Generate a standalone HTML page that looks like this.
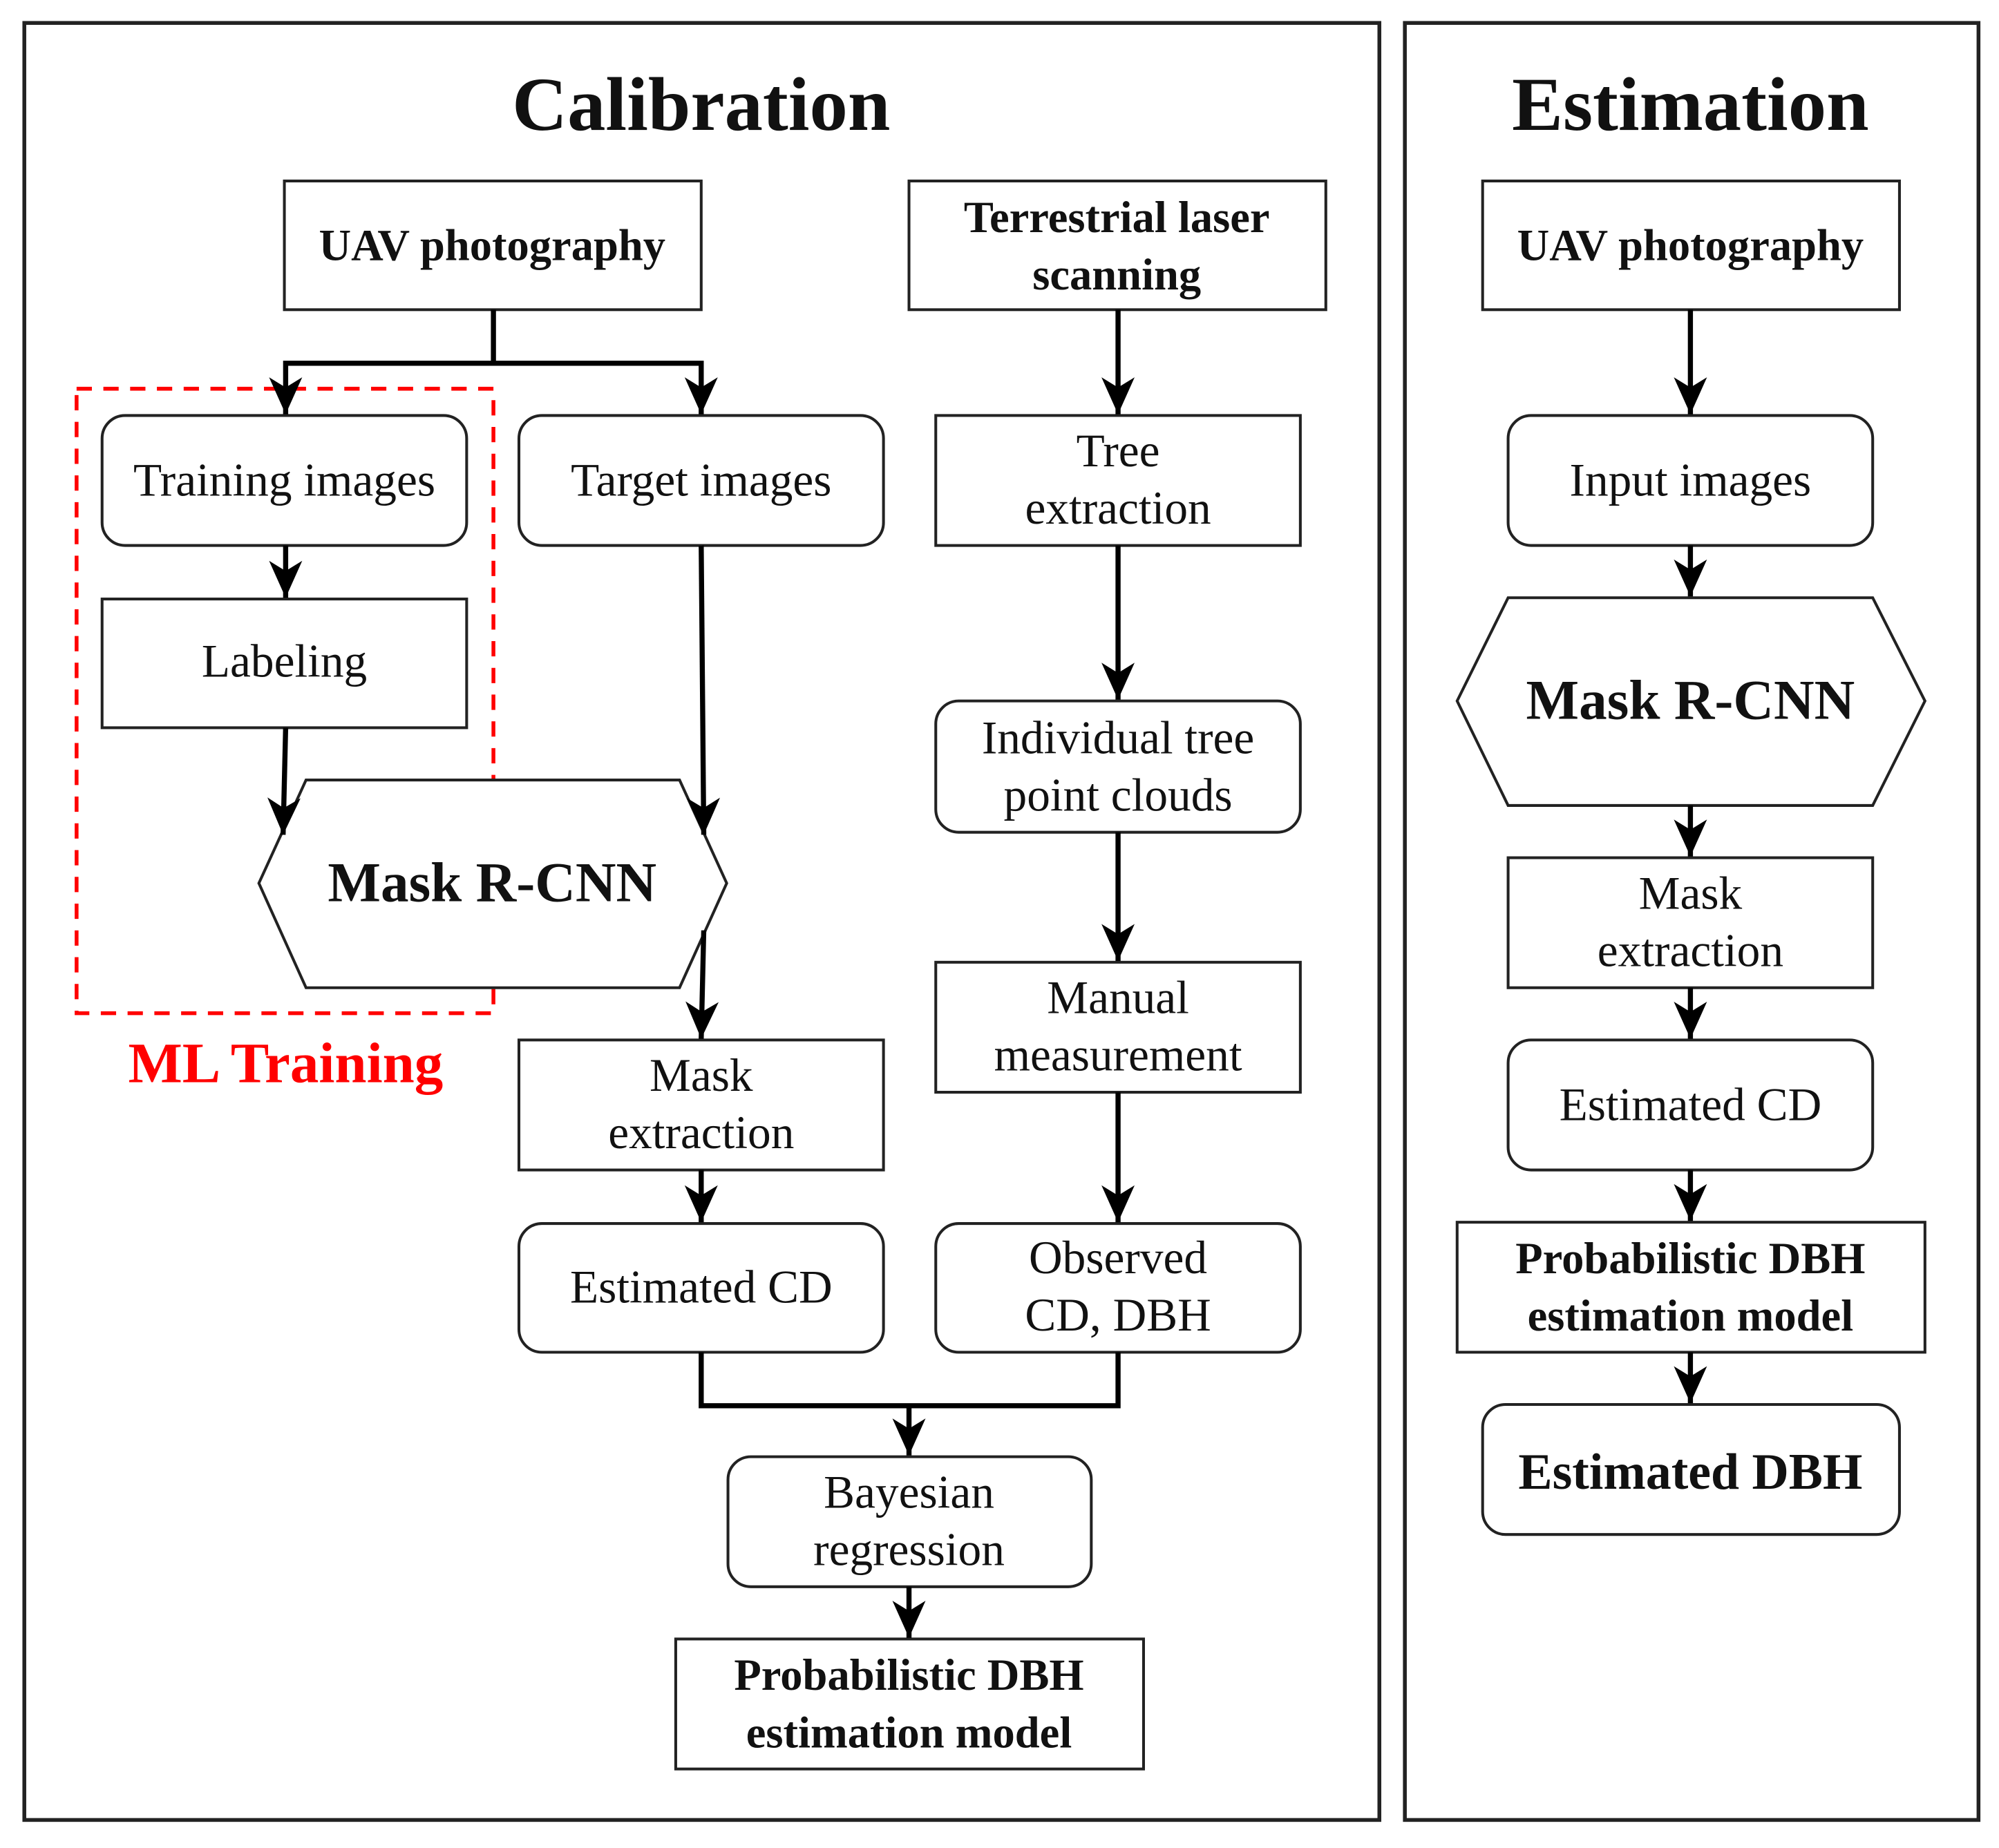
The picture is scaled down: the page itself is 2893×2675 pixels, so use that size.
<!DOCTYPE html>
<html><head><meta charset="utf-8"><style>
html,body{margin:0;padding:0;background:#fff}
svg{display:block}
text{font-family:"Liberation Serif",serif;fill:#111}
.n{font-size:36.5px}
.b{font-size:35px;font-weight:bold}
</style></head><body>
<svg width="2893" height="2675" viewBox="0 0 1568 1450" xmlns="http://www.w3.org/2000/svg">
<defs>
<marker id="a" markerUnits="userSpaceOnUse" markerWidth="32" markerHeight="28" refX="30" refY="14" orient="auto" viewBox="0 0 32 28">
<path d="M1,1 L30,14 L1,27 L9,14 Z" fill="#000"/>
</marker>
</defs>
<g fill="none" stroke="#222" stroke-width="3">
<rect x="19" y="18" width="1063" height="1410"/>
<rect x="1102" y="18" width="450" height="1410"/>
</g>
<text x="550" y="102" text-anchor="middle" style="font-size:60px;font-weight:bold">Calibration</text>
<text x="1326" y="102" text-anchor="middle" style="font-size:60px;font-weight:bold">Estimation</text>

<rect x="60" y="305" width="327" height="490" fill="none" stroke="#f00" stroke-width="3" stroke-dasharray="12,9"/>
<text x="224" y="849" text-anchor="middle" style="font-size:45px;font-weight:bold;fill:#f00">ML Training</text>

<g fill="#fff" stroke="#222" stroke-width="2.2">
<rect x="223" y="142" width="327" height="101"/>
<rect x="713" y="142" width="327" height="101"/>
<rect x="80" y="326" width="286" height="102" rx="18"/>
<rect x="407" y="326" width="286" height="102" rx="18"/>
<rect x="734" y="326" width="286" height="102"/>
<rect x="80" y="470" width="286" height="101"/>
<rect x="734" y="550" width="286" height="103" rx="18"/>
<polygon points="203,693 240,612 533,612 570,693 533,775 240,775"/>
<rect x="734" y="755" width="286" height="102"/>
<rect x="407" y="816" width="286" height="102"/>
<rect x="407" y="960" width="286" height="101" rx="18"/>
<rect x="734" y="960" width="286" height="101" rx="18"/>
<rect x="571" y="1143" width="285" height="102" rx="18"/>
<rect x="530" y="1286" width="367" height="102"/>
<rect x="1163" y="142" width="327" height="101"/>
<rect x="1183" y="326" width="286" height="102" rx="18"/>
<polygon points="1143,550 1183,469 1469,469 1510,550 1469,632 1183,632"/>
<rect x="1183" y="673" width="286" height="102"/>
<rect x="1183" y="816" width="286" height="102" rx="18"/>
<rect x="1143" y="959" width="367" height="102"/>
<rect x="1163" y="1102" width="327" height="102" rx="18"/>
</g>

<g fill="none" stroke="#000" stroke-width="4">
<polyline points="387,243 387,285 224,285 224,325" marker-end="url(#a)"/>
<polyline points="387,285 550,285 550,325" marker-end="url(#a)"/>
<line x1="224" y1="428" x2="224" y2="469" marker-end="url(#a)"/>
<line x1="224" y1="571" x2="222" y2="655" marker-end="url(#a)"/>
<line x1="550" y1="428" x2="552" y2="655" marker-end="url(#a)"/>
<line x1="552" y1="730" x2="550" y2="815" marker-end="url(#a)"/>
<line x1="550" y1="918" x2="550" y2="959" marker-end="url(#a)"/>
<polyline points="550,1061 550,1103 877,1103 877,1061"/>
<line x1="713" y1="1103" x2="713" y2="1142" marker-end="url(#a)"/>
<line x1="713" y1="1245" x2="713" y2="1285" marker-end="url(#a)"/>
<line x1="877" y1="243" x2="877" y2="325" marker-end="url(#a)"/>
<line x1="877" y1="428" x2="877" y2="549" marker-end="url(#a)"/>
<line x1="877" y1="653" x2="877" y2="754" marker-end="url(#a)"/>
<line x1="877" y1="857" x2="877" y2="959" marker-end="url(#a)"/>
<line x1="1326" y1="243" x2="1326" y2="325" marker-end="url(#a)"/>
<line x1="1326" y1="428" x2="1326" y2="468" marker-end="url(#a)"/>
<line x1="1326" y1="632" x2="1326" y2="672" marker-end="url(#a)"/>
<line x1="1326" y1="775" x2="1326" y2="815" marker-end="url(#a)"/>
<line x1="1326" y1="918" x2="1326" y2="958" marker-end="url(#a)"/>
<line x1="1326" y1="1061" x2="1326" y2="1101" marker-end="url(#a)"/>
</g>

<g text-anchor="middle">
<text class="b" x="386" y="204">UAV photography</text>
<text class="b" x="876" y="182">Terrestrial laser</text>
<text class="b" x="876" y="227">scanning</text>
<text class="n" x="223" y="389">Training images</text>
<text class="n" x="550" y="389">Target images</text>
<text class="n" x="877" y="366">Tree</text>
<text class="n" x="877" y="411">extraction</text>
<text class="n" x="223" y="531">Labeling</text>
<text class="n" x="877" y="591">Individual tree</text>
<text class="n" x="877" y="636">point clouds</text>
<text x="386" y="707" style="font-size:44px;font-weight:bold">Mask R-CNN</text>
<text class="n" x="877" y="795">Manual</text>
<text class="n" x="877" y="840">measurement</text>
<text class="n" x="550" y="856">Mask</text>
<text class="n" x="550" y="901">extraction</text>
<text class="n" x="550" y="1022">Estimated CD</text>
<text class="n" x="877" y="999">Observed</text>
<text class="n" x="877" y="1044">CD, DBH</text>
<text class="n" x="713" y="1183">Bayesian</text>
<text class="n" x="713" y="1228">regression</text>
<text class="b" x="713" y="1326">Probabilistic DBH</text>
<text class="b" x="713" y="1371">estimation model</text>
<text class="b" x="1326" y="204">UAV photography</text>
<text class="n" x="1326" y="389">Input images</text>
<text x="1326" y="564" style="font-size:44px;font-weight:bold">Mask R-CNN</text>
<text class="n" x="1326" y="713">Mask</text>
<text class="n" x="1326" y="758">extraction</text>
<text class="n" x="1326" y="879">Estimated CD</text>
<text class="b" x="1326" y="999">Probabilistic DBH</text>
<text class="b" x="1326" y="1044">estimation model</text>
<text x="1326" y="1168" style="font-size:40px;font-weight:bold">Estimated DBH</text>
</g>
</svg>
</body></html>
